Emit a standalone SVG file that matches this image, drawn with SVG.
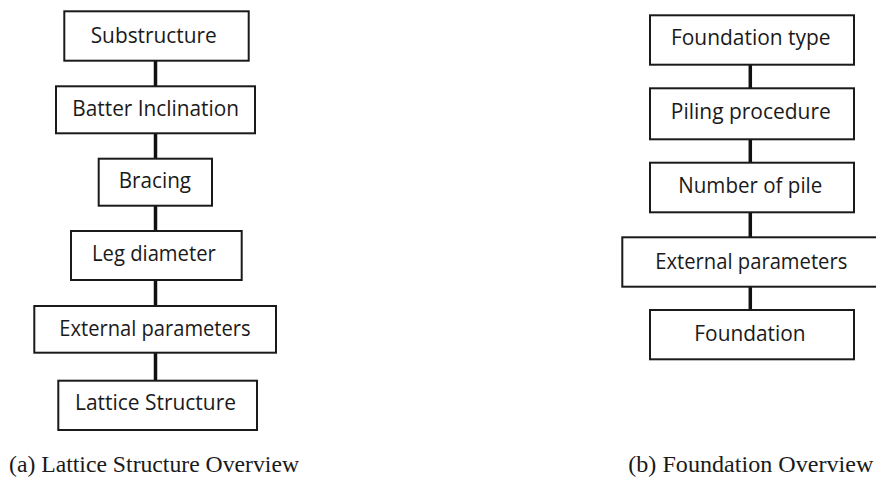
<svg xmlns="http://www.w3.org/2000/svg" width="876" height="477" viewBox="0 0 876 477">
  <style>
    .box { fill: #ffffff; stroke: #1a1a1a; stroke-width: 2; }
    .label { font-family: "Open Sans", "Liberation Sans", sans-serif; font-size: 21.5px; fill: #1a1a1a; text-anchor: middle; }
    .link { stroke: #111111; stroke-width: 3.5; fill: none; }
    .caption { font-family: "Liberation Serif", serif; font-size: 22.5px; fill: #1a1a1a; }
  </style>
  <rect width="876" height="477" fill="#ffffff"/>

  <!-- Connectors -->
  <g id="connectors">
    <line class="link" x1="155.5" y1="60.7" x2="155.5" y2="86.3"/>
    <line class="link" x1="155.5" y1="133.3" x2="155.5" y2="158.7"/>
    <line class="link" x1="155.5" y1="205.7" x2="155.5" y2="231"/>
    <line class="link" x1="155.5" y1="280" x2="155.5" y2="306"/>
    <line class="link" x1="155.5" y1="352.7" x2="155.5" y2="380.7"/>
    <line class="link" x1="750.3" y1="64.7" x2="750.3" y2="88.3"/>
    <line class="link" x1="750.3" y1="139.3" x2="750.3" y2="162.7"/>
    <line class="link" x1="750.3" y1="212.3" x2="750.3" y2="237.3"/>
    <line class="link" x1="750.3" y1="286.7" x2="750.3" y2="310"/>
  </g>

  <!-- Lattice structure chain -->
  <g id="substructure">
    <rect class="box" x="64.3" y="11.3" width="184.4" height="49.4"/>
    <text class="label" x="153.7" y="43.3" textLength="126" lengthAdjust="spacingAndGlyphs">Substructure</text>
  </g>
  <g id="batter-inclination">
    <rect class="box" x="56" y="86.3" width="199" height="47"/>
    <text class="label" x="155.7" y="115.7" textLength="166.7" lengthAdjust="spacingAndGlyphs">Batter Inclination</text>
  </g>
  <g id="bracing">
    <rect class="box" x="98.7" y="158.7" width="113.3" height="47"/>
    <text class="label" x="154.9" y="188.3" textLength="72.3" lengthAdjust="spacingAndGlyphs">Bracing</text>
  </g>
  <g id="leg-diameter">
    <rect class="box" x="71" y="231" width="170.7" height="49"/>
    <text class="label" x="153.9" y="261" textLength="123.7" lengthAdjust="spacingAndGlyphs">Leg diameter</text>
  </g>
  <g id="external-parameters-a">
    <rect class="box" x="34.3" y="306" width="241.7" height="46.7"/>
    <text class="label" x="155" y="335.7" textLength="191.3" lengthAdjust="spacingAndGlyphs">External parameters</text>
  </g>
  <g id="lattice-structure">
    <rect class="box" x="58.3" y="380.7" width="198.7" height="49.3"/>
    <text class="label" x="155.5" y="410.3" textLength="161" lengthAdjust="spacingAndGlyphs">Lattice Structure</text>
  </g>

  <!-- Foundation chain -->
  <g id="foundation-type">
    <rect class="box" x="650" y="15.3" width="204" height="49.4"/>
    <text class="label" x="750.8" y="45" textLength="159.7" lengthAdjust="spacingAndGlyphs">Foundation type</text>
  </g>
  <g id="piling-procedure">
    <rect class="box" x="650" y="88.3" width="204" height="51"/>
    <text class="label" x="750.8" y="119" textLength="160" lengthAdjust="spacingAndGlyphs">Piling procedure</text>
  </g>
  <g id="number-of-pile">
    <rect class="box" x="650" y="162.7" width="204" height="49.6"/>
    <text class="label" x="750.3" y="193.3" textLength="144" lengthAdjust="spacingAndGlyphs">Number of pile</text>
  </g>
  <g id="external-parameters-b">
    <rect class="box" x="622.3" y="237.3" width="262" height="49.4"/>
    <text class="label" x="751.3" y="269" textLength="192" lengthAdjust="spacingAndGlyphs">External parameters</text>
  </g>
  <g id="foundation">
    <rect class="box" x="650" y="310" width="204" height="49.3"/>
    <text class="label" x="750" y="341" textLength="111.3" lengthAdjust="spacingAndGlyphs">Foundation</text>
  </g>

  <!-- Captions -->
  <text class="caption" x="9" y="471.5" textLength="290" lengthAdjust="spacingAndGlyphs">(a) Lattice Structure Overview</text>
  <text class="caption" x="628.3" y="471.5" textLength="245" lengthAdjust="spacingAndGlyphs">(b) Foundation Overview</text>
</svg>
